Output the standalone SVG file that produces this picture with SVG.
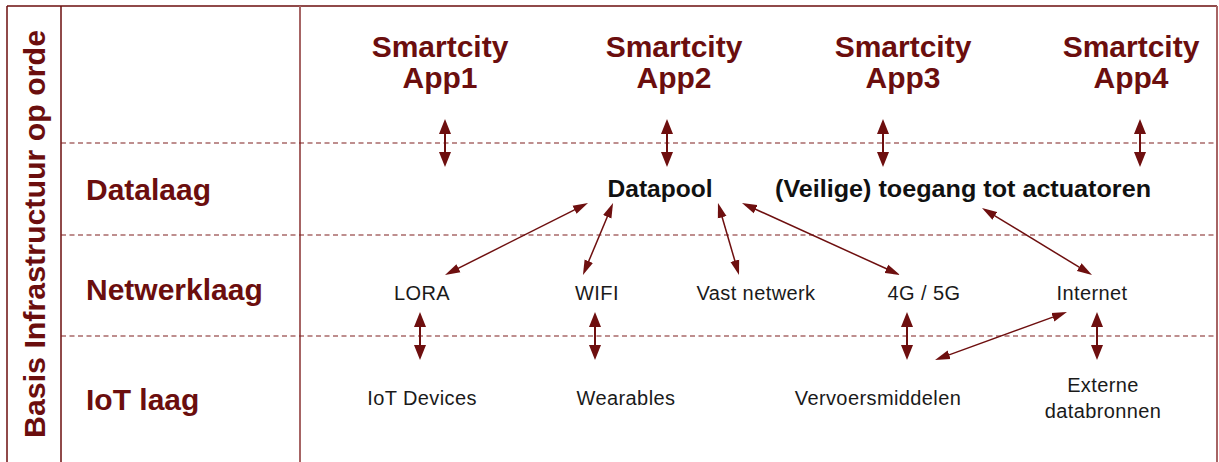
<svg xmlns="http://www.w3.org/2000/svg" width="1219" height="462" viewBox="0 0 1219 462">
<style>
.frame{stroke:#6b0e0e;stroke-width:1.5;fill:none}
.light{stroke:#a66464;stroke-width:2;fill:none}
.dash{stroke:#7e1e1e;stroke-width:1.2;stroke-dasharray:5 3.5;fill:none}
.lbl{font-family:"Liberation Sans",Arial,sans-serif;font-weight:bold;fill:#6b0e0e}
.app{font-family:"Liberation Sans",Arial,sans-serif;font-weight:bold;fill:#6b0e0e;font-size:30px;text-anchor:middle}
.hd{font-family:"Liberation Sans",Arial,sans-serif;font-weight:bold;fill:#111;font-size:24px;text-anchor:middle}
.t{font-family:"Liberation Sans",Arial,sans-serif;fill:#1a1a1a;font-size:20px;letter-spacing:0.4px;text-anchor:middle}
.v{stroke:#6e0f0f;stroke-width:2;fill:none;marker-start:url(#hv);marker-end:url(#hv)}
.d{stroke:#6e0f0f;stroke-width:1.5;fill:none;marker-start:url(#hd);marker-end:url(#hd)}
</style>
<defs>
<marker id="hv" markerUnits="userSpaceOnUse" markerWidth="15" markerHeight="12" refX="11" refY="6" orient="auto-start-reverse"><path d="M0,0 L15,6 L0,12 z" fill="#6e0f0f"/></marker>
<marker id="hd" markerUnits="userSpaceOnUse" markerWidth="15" markerHeight="10" refX="11" refY="5" orient="auto-start-reverse"><path d="M0,0.5 L15,5 L0,9.5 z" fill="#6e0f0f"/></marker>
</defs>
<rect width="1219" height="462" fill="#fff"/>
<g id="grid">
<line class="frame" x1="7" y1="6" x2="1217" y2="6"/>
<line class="frame" x1="7" y1="6" x2="7" y2="462"/>
<line class="frame" x1="61" y1="6" x2="61" y2="462"/>
<line class="light" x1="300" y1="6" x2="300" y2="462"/>
<line class="light" x1="1217" y1="6" x2="1217" y2="462"/>
<line class="dash" x1="61" y1="143" x2="1217" y2="143"/>
<line class="dash" x1="61" y1="235" x2="1217" y2="235"/>
<line class="dash" x1="61" y1="336" x2="1217" y2="336"/>
</g>
<g id="title"><text class="lbl" font-size="30" text-anchor="middle" textLength="408" lengthAdjust="spacingAndGlyphs" transform="translate(45,234) rotate(-90)">Basis Infrastructuur op orde</text></g>
<g id="row-data"><text class="lbl" font-size="30" x="86" y="200">Datalaag</text></g>
<g id="row-net"><text class="lbl" font-size="30" x="86" y="300">Netwerklaag</text></g>
<g id="row-iot"><text class="lbl" font-size="30" x="86" y="410">IoT laag</text></g>
<g id="app1"><text class="app" x="440" y="57">Smartcity</text><text class="app" x="440" y="88">App1</text></g>
<g id="app2"><text class="app" x="674" y="57">Smartcity</text><text class="app" x="674" y="88">App2</text></g>
<g id="app3"><text class="app" x="903" y="57">Smartcity</text><text class="app" x="903" y="88">App3</text></g>
<g id="app4"><text class="app" x="1131" y="57">Smartcity</text><text class="app" x="1131" y="88">App4</text></g>
<g id="datapool"><text class="hd" x="660" y="197" textLength="105" lengthAdjust="spacingAndGlyphs">Datapool</text></g>
<g id="actuatoren"><text class="hd" x="963" y="197" textLength="376" lengthAdjust="spacingAndGlyphs">(Veilige) toegang tot actuatoren</text></g>
<g id="lora"><text class="t" x="422" y="300">LORA</text></g>
<g id="wifi"><text class="t" x="597" y="300">WIFI</text></g>
<g id="vast"><text class="t" x="756" y="300">Vast netwerk</text></g>
<g id="g45"><text class="t" x="924" y="300">4G / 5G</text></g>
<g id="internet"><text class="t" x="1092" y="300">Internet</text></g>
<g id="iotdev"><text class="t" x="422" y="405">IoT Devices</text></g>
<g id="wear"><text class="t" x="626" y="405">Wearables</text></g>
<g id="vervoer"><text class="t" x="878" y="405">Vervoersmiddelen</text></g>
<g id="extern"><text class="t" x="1103" y="392">Externe</text><text class="t" x="1103" y="418">databronnen</text></g>
<g id="connectors">
<line class="v" x1="445" y1="123" x2="445" y2="163"/>
<line class="v" x1="667" y1="123" x2="667" y2="163"/>
<line class="v" x1="883" y1="123" x2="883" y2="163"/>
<line class="v" x1="1140" y1="123" x2="1140" y2="163"/>
<line class="v" x1="420" y1="316" x2="420" y2="356"/>
<line class="v" x1="595" y1="316" x2="595" y2="356"/>
<line class="v" x1="907" y1="316" x2="907" y2="356"/>
<line class="v" x1="1097" y1="316" x2="1097" y2="356"/>
<line class="d" x1="448.6" y1="273.2" x2="584.4" y2="204.8"/>
<line class="d" x1="584.5" y1="271.3" x2="611.5" y2="206.7"/>
<line class="d" x1="719.1" y1="206.8" x2="737.9" y2="271.2"/>
<line class="d" x1="745.6" y1="204.7" x2="896.4" y2="273.3"/>
<line class="d" x1="985.4" y1="210.1" x2="1088.6" y2="272.9"/>
<line class="d" x1="1063.2" y1="313.4" x2="938.8" y2="358.6"/>
</g>
</svg>
